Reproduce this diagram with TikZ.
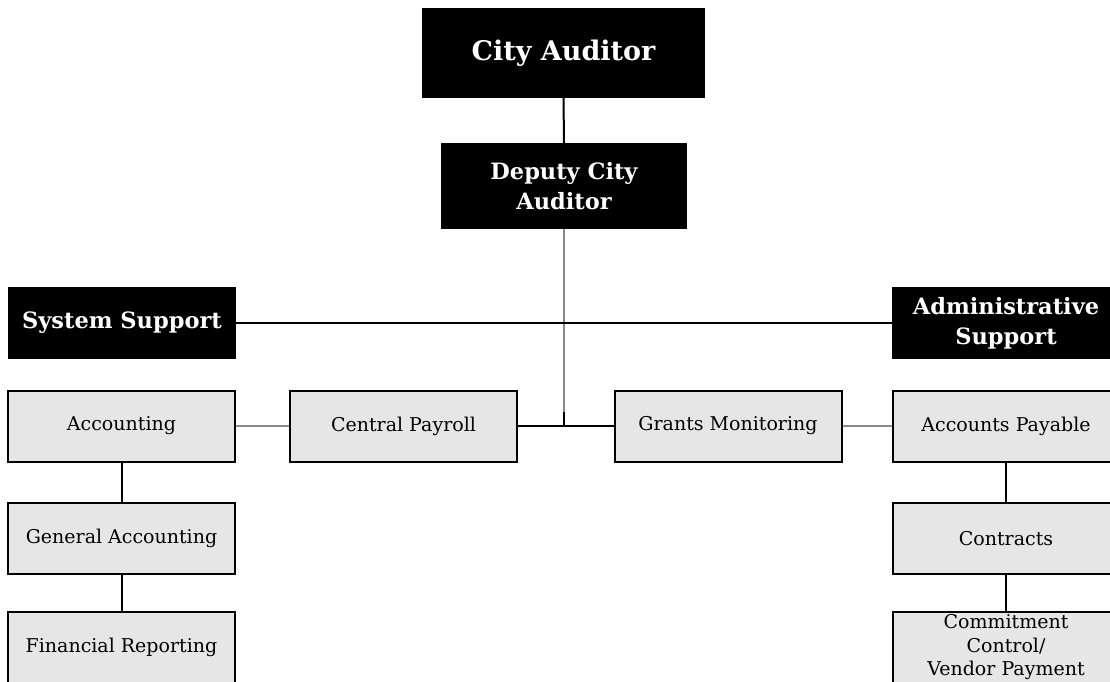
\documentclass[tikz,border=0pt]{standalone}
\usepackage{fontspec}
\setmainfont{DejaVu Serif}
\definecolor{boxgray}{HTML}{E6E6E6}
\definecolor{linegray}{HTML}{8A8A8A}

\begin{document}
\begin{tikzpicture}[x=1pt, y=-1pt,
    headbox/.style={fill=black, text=white, align=center, inner sep=0pt,
        font=\bfseries\fontsize{22.5}{30}\selectfont},
    unitbox/.style={fill=boxgray, draw=black, line width=2pt, align=center,
        inner sep=0pt, minimum width=227pt, minimum height=71pt,
        font=\fontsize{19}{23.5}\selectfont},
    darkline/.style={line width=2pt},
    greyline/.style={line width=2pt, color=linegray}]

                \useasboundingbox (0,0) rectangle (1110,681);

                \node[headbox, minimum width=283pt, minimum height=90pt,
                    font=\bfseries\fontsize{27}{32}\selectfont] (auditor) at (563.5,53) {City Auditor};
                \node[headbox, minimum width=246pt, minimum height=86pt] (deputy) at (564,186) {Deputy City\\Auditor};
                \node[headbox, minimum width=228pt, minimum height=72pt] (system) at (122,323) {System Support};
                \node[headbox, minimum width=228pt, minimum height=72pt] (admin) at (1006,323) {Administrative\\Support};

                \node[unitbox] (accounting) at (121.5,426) {Accounting};
                \node[unitbox] (payroll) at (403.5,426) {Central Payroll};
                \node[unitbox] (grants) at (728,426) {Grants Monitoring};
                \node[unitbox] (payable) at (1006,426) {Accounts Payable};
                \node[unitbox] (general) at (121.5,538.5) {General Accounting};
                \node[unitbox] (contracts) at (1006,538.5) {Contracts};
                \node[unitbox] (reporting) at (121.5,647.5) {Financial Reporting};
                \node[unitbox] (commitment) at (1006,647.5) {Commitment\\Control/\\Vendor Payment};

                \coordinate (hub) at (564,426);
                \coordinate (stub) at (564,412);

                \draw[darkline] (auditor.south) -- (deputy.north);
                \draw[greyline] (deputy.south) -- (stub);
                \draw[darkline] (stub) -- (hub);
                \draw[darkline] (system.east) -- (admin.west);
                \draw[darkline] (payroll.east) -- (grants.west);
                \draw[greyline] (accounting.east) -- (payroll.west);
                \draw[greyline] (grants.east) -- (payable.west);
                \draw[darkline] (accounting.south) -- (general.north);
                \draw[darkline] (general.south) -- (reporting.north);
                \draw[darkline] (payable.south) -- (contracts.north);
                \draw[darkline] (contracts.south) -- (commitment.north);
            \end{tikzpicture}
\end{document}
